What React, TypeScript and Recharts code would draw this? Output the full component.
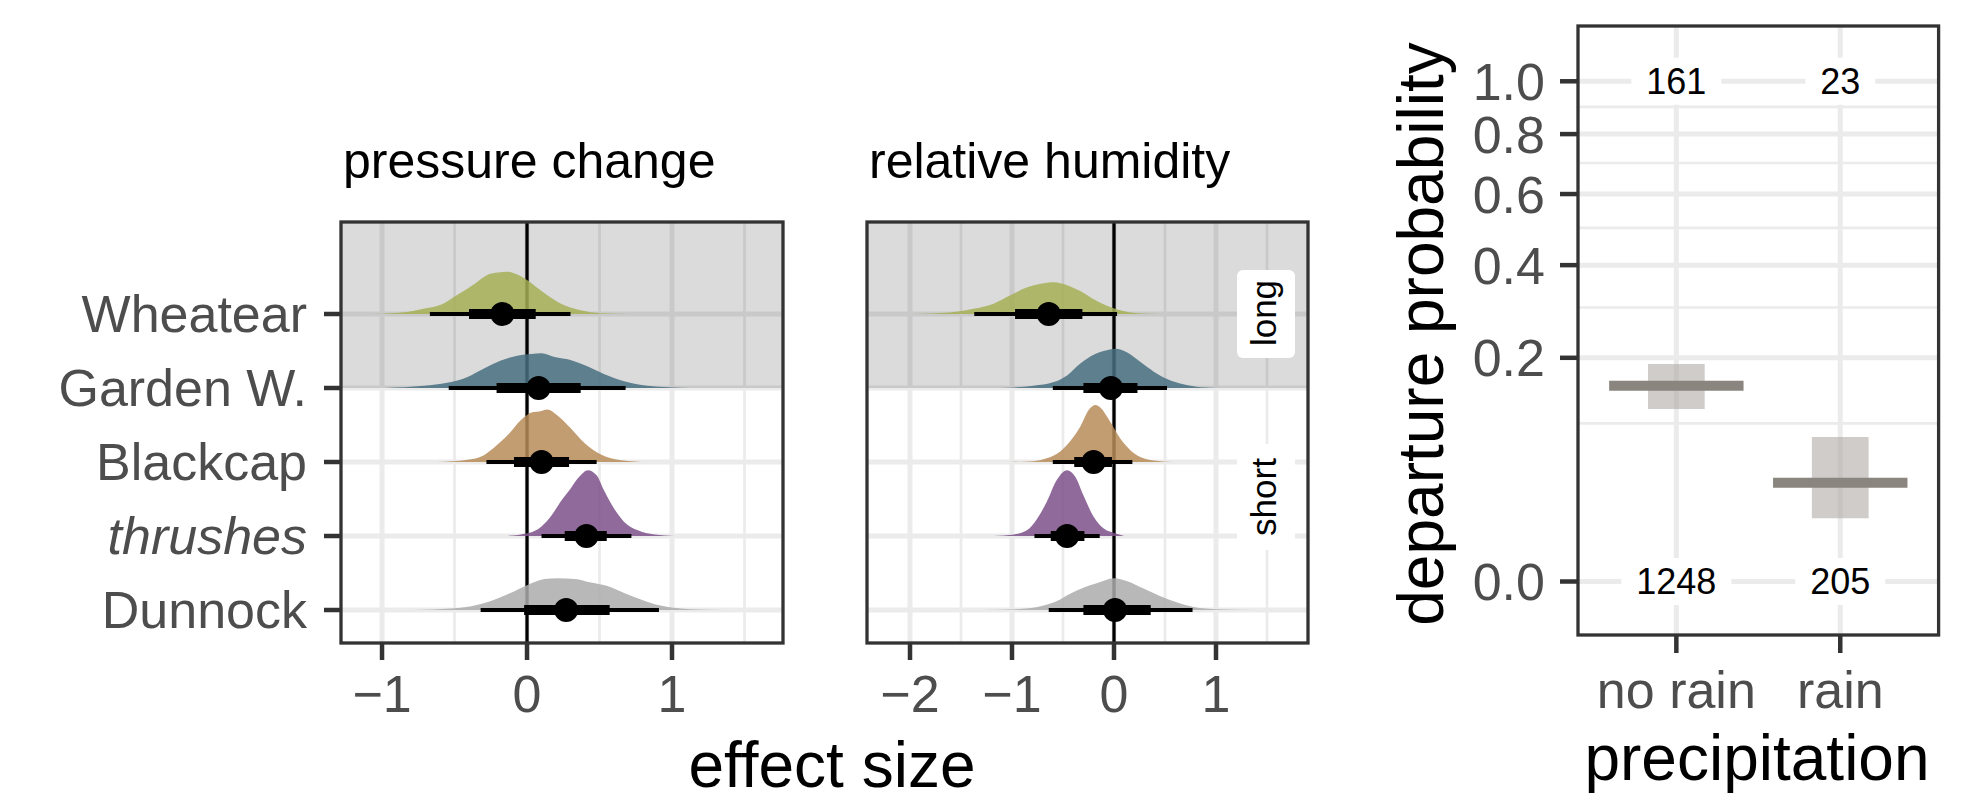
import React from 'react'
import {
  ComposedChart, Area, Line, Scatter, XAxis, YAxis, ReferenceLine, ReferenceArea
} from 'recharts'

// species, top to bottom, and their row on the y axis
const species = ['Wheatear', 'Garden W.', 'Blackcap', 'thrushes', 'Dunnock']
const speciesRow = [5, 4, 3, 2, 1]
const speciesColors = ['#A6AF56', '#486F80', '#B88C59', '#7B5088', '#ABABAB']

// posterior densities [effect size, height in row units]
const pcWheatear = [[-1.06, 0], [-0.82, 0.03], [-0.69, 0.08], [-0.59, 0.13], [-0.48, 0.26], [-0.36, 0.41], [-0.27, 0.53], [-0.2, 0.56], [-0.13, 0.57], [-0.09, 0.55], [0, 0.46], [0.1, 0.31], [0.19, 0.19], [0.28, 0.1], [0.37, 0.05], [0.51, 0.01], [0.72, 0]]
const pcGarden = [[-0.98, 0], [-0.71, 0.03], [-0.55, 0.07], [-0.41, 0.15], [-0.29, 0.27], [-0.18, 0.37], [-0.06, 0.44], [0.03, 0.46], [0.1, 0.47], [0.19, 0.42], [0.3, 0.38], [0.42, 0.29], [0.53, 0.19], [0.67, 0.09], [0.83, 0.03], [1.13, 0]]
const pcBlackcap = [[-0.62, 0], [-0.41, 0.03], [-0.32, 0.07], [-0.23, 0.19], [-0.13, 0.37], [-0.04, 0.57], [0.03, 0.67], [0.1, 0.69], [0.14, 0.71], [0.21, 0.63], [0.3, 0.46], [0.4, 0.25], [0.49, 0.12], [0.6, 0.04], [0.79, 0]]
const pcThrushes = [[-0.15, 0], [0.01, 0.04], [0.1, 0.13], [0.17, 0.28], [0.23, 0.46], [0.3, 0.64], [0.36, 0.8], [0.42, 0.89], [0.48, 0.82], [0.53, 0.62], [0.6, 0.37], [0.67, 0.19], [0.76, 0.08], [0.88, 0.02], [1.02, 0]]
const pcDunnock = [[-0.78, 0], [-0.52, 0.02], [-0.34, 0.07], [-0.2, 0.16], [-0.09, 0.25], [0.03, 0.36], [0.12, 0.42], [0.21, 0.43], [0.33, 0.42], [0.44, 0.37], [0.56, 0.32], [0.67, 0.23], [0.79, 0.14], [0.92, 0.06], [1.13, 0.01], [1.36, 0]]

const rhWheatear = [[-1.96, 0], [-1.61, 0.02], [-1.38, 0.07], [-1.18, 0.14], [-1.02, 0.25], [-0.85, 0.36], [-0.72, 0.41], [-0.59, 0.43], [-0.46, 0.39], [-0.33, 0.31], [-0.2, 0.2], [-0.07, 0.11], [0.06, 0.05], [0.23, 0.01], [0.45, 0]]
const rhGarden = [[-1.12, 0], [-0.79, 0.03], [-0.59, 0.08], [-0.46, 0.17], [-0.33, 0.33], [-0.2, 0.45], [-0.07, 0.51], [0.01, 0.53], [0.13, 0.48], [0.26, 0.35], [0.39, 0.22], [0.52, 0.12], [0.68, 0.05], [0.85, 0.01], [1.04, 0]]
const rhBlackcap = [[-1.02, 0], [-0.79, 0.01], [-0.66, 0.05], [-0.53, 0.14], [-0.43, 0.28], [-0.33, 0.48], [-0.25, 0.7], [-0.18, 0.77], [-0.13, 0.73], [-0.04, 0.55], [0.06, 0.32], [0.16, 0.16], [0.29, 0.05], [0.45, 0.01], [0.59, 0]]
const rhThrushes = [[-1.18, 0], [-0.98, 0.02], [-0.85, 0.08], [-0.76, 0.22], [-0.66, 0.46], [-0.56, 0.76], [-0.46, 0.89], [-0.38, 0.8], [-0.3, 0.55], [-0.2, 0.26], [-0.1, 0.1], [0, 0.04], [0.1, 0]]
const rhDunnock = [[-1.28, 0], [-0.95, 0.01], [-0.72, 0.05], [-0.56, 0.12], [-0.43, 0.22], [-0.3, 0.3], [-0.17, 0.36], [0, 0.43], [0.13, 0.39], [0.29, 0.29], [0.45, 0.19], [0.62, 0.1], [0.78, 0.04], [1.01, 0.01], [1.37, 0]]

// medians, 66% and 95% intervals (species order)
const pcMedian = [-0.17, 0.08, 0.1, 0.41, 0.27]
const pcThickLo = [-0.4, -0.21, -0.09, 0.26, -0.02]
const pcThickHi = [0.06, 0.37, 0.29, 0.55, 0.57]
const pcThinLo = [-0.67, -0.54, -0.28, 0.1, -0.32]
const pcThinHi = [0.3, 0.68, 0.48, 0.72, 0.91]

const rhMedian = [-0.64, -0.03, -0.2, -0.46, 0.01]
const rhThickLo = [-0.97, -0.3, -0.39, -0.62, -0.3]
const rhThickHi = [-0.31, 0.23, -0.02, -0.29, 0.36]
const rhThinLo = [-1.37, -0.6, -0.6, -0.78, -0.64]
const rhThinHi = [0.03, 0.52, 0.18, -0.14, 0.77]

// departure probability by precipitation
const precipitation = ['no rain', 'rain']
const departProb = [0.153, 0.039]
const departLo = [0.119, 0.016]
const departHi = [0.189, 0.0835]
const departedN = [161, 23]
const stayedN = [1248, 205]
const probTicks = [0, 0.2, 0.4, 0.6, 0.8, 1.0]
const probMinor = [0.1, 0.3, 0.5, 0.7, 0.9]

const GRID = '#EBEBEB'
const INK = '#333333'
const TICK_TEXT = '#4D4D4D'
const FONT = '"Liberation Sans", Arial, Helvetica, sans-serif'
const ROW_DOMAIN = [0.5541, 6.2432]

const fmtMinus = (v: number) => (v < 0 ? '\u2212' + Math.abs(v) : String(v))

function SpeciesTick(props: any) {
  const { x, y, payload } = props
  const i = speciesRow.indexOf(payload.value)
  return (
    <text x={x} y={y} dy="0.355em" textAnchor="end" fill={TICK_TEXT} fontSize={52}
      fontStyle={species[i] === 'thrushes' ? 'italic' : 'normal'}>
      {species[i]}
    </text>
  )
}

const Dot = (props: any) => <circle cx={props.cx} cy={props.cy} r={12} fill="#000" />

function CountLabel(props: any) {
  const { cx, cy, payload } = props
  const w = String(payload.n).length * 20 + 30
  return (
    <g>
      <rect x={cx - w / 2} y={cy - 23.5} width={w} height={47} rx={6} fill="#fff" />
      <text x={cx} y={cy} dy="0.36em" textAnchor="middle" fontSize={36} fill="#000">{payload.n}</text>
    </g>
  )
}

type PanelProps = {
  dens: number[][][]
  med: number[]
  thickLo: number[]
  thickHi: number[]
  thinLo: number[]
  thinHi: number[]
  domain: number[]
  major: number[]
  minor: number[]
  showY: boolean
  left: number
  width: number
  margin: { top: number; right: number; bottom: number; left: number }
}

function EffectPanel(p: PanelProps) {
  const areaData = p.dens.map((d, i) => d.map(([x, h]) => ({ x, r: [speciesRow[i], speciesRow[i] + h] })))
  const points = p.med.map((m, i) => ({ x: m, y: speciesRow[i] }))
  return (
    <div style={{ position: 'absolute', left: p.left, top: 200 }}>
      <ComposedChart width={p.width} height={560} margin={p.margin}>
        <XAxis type="number" dataKey="x" domain={p.domain} allowDataOverflow ticks={p.major} interval={0}
          tickFormatter={fmtMinus} height={117} tickSize={17} tickMargin={15} axisLine={false}
          tickLine={{ stroke: INK, strokeWidth: 4.5 }} tick={{ fill: TICK_TEXT, fontSize: 52 }} />
        <YAxis type="number" dataKey="y" domain={ROW_DOMAIN} allowDataOverflow ticks={speciesRow} interval={0}
          hide={!p.showY} width={341} tickSize={17} tickMargin={17} axisLine={false}
          tickLine={{ stroke: INK, strokeWidth: 4.5 }} tick={<SpeciesTick />} />
        {p.minor.map((v) => (
          <ReferenceLine key={'mn' + v} x={v} stroke={GRID} strokeWidth={2.7} zIndex={-80} />
        ))}
        {p.major.map((v) => (
          <ReferenceLine key={'mj' + v} x={v} stroke={GRID} strokeWidth={5} zIndex={-80} />
        ))}
        {speciesRow.map((r) => (
          <ReferenceLine key={'row' + r} y={r} stroke={GRID} strokeWidth={5} zIndex={-80} />
        ))}
        <ReferenceArea y1={4} y2={ROW_DOMAIN[1]} fill="#000" fillOpacity={0.14} stroke="none" zIndex={-60} />
        <ReferenceLine x={0} stroke="#000" strokeWidth={3.3} zIndex={-40} />
        {areaData.map((d, i) => (
          <Area key={'a' + i} data={d} dataKey="r" type="monotone" fill={speciesColors[i]} fillOpacity={0.85}
            stroke="none" dot={false} activeDot={false} isAnimationActive={false} />
        ))}
        {p.med.map((_, i) => (
          <Line key={'thin' + i} data={[{ x: p.thinLo[i], y: speciesRow[i] }, { x: p.thinHi[i], y: speciesRow[i] }]}
            dataKey="y" stroke="#000" strokeWidth={4} dot={false} activeDot={false} isAnimationActive={false} />
        ))}
        {p.med.map((_, i) => (
          <Line key={'thick' + i} data={[{ x: p.thickLo[i], y: speciesRow[i] }, { x: p.thickHi[i], y: speciesRow[i] }]}
            dataKey="y" stroke="#000" strokeWidth={10} dot={false} activeDot={false} isAnimationActive={false} />
        ))}
        <Scatter data={points} dataKey="y" shape={<Dot />} isAnimationActive={false} />
      </ComposedChart>
    </div>
  )
}

function PrecipPanel() {
  const labels = [
    ...departedN.map((n, i) => ({ x: i + 1, y: 1, n })),
    ...stayedN.map((n, i) => ({ x: i + 1, y: 0, n })),
  ]
  return (
    <div style={{ position: 'absolute', left: 1400, top: 0 }}>
      <ComposedChart width={578} height={760} margin={{ top: 26, right: 39.4, bottom: 0, left: 0 }}>
        <XAxis type="number" dataKey="x" domain={[0.4, 2.6]} allowDataOverflow ticks={[1, 2]} interval={0}
          tickFormatter={(v: number) => precipitation[v - 1]} height={125} tickSize={18} tickMargin={18}
          axisLine={false} tickLine={{ stroke: INK, strokeWidth: 4.5 }} tick={{ fill: TICK_TEXT, fontSize: 52 }} />
        <YAxis type="number" dataKey="y" scale="sqrt" domain={[-0.01144, 1.2333]} allowDataOverflow ticks={probTicks}
          interval={0} tickFormatter={(v: number) => v.toFixed(1)} width={178} tickSize={18} tickMargin={15}
          axisLine={false} tickLine={{ stroke: INK, strokeWidth: 4.5 }} tick={{ fill: TICK_TEXT, fontSize: 52 }} />
        {probMinor.map((v) => (
          <ReferenceLine key={'pm' + v} y={v} stroke={GRID} strokeWidth={2.7} zIndex={-80} />
        ))}
        {probTicks.map((v) => (
          <ReferenceLine key={'pj' + v} y={v} stroke={GRID} strokeWidth={5} zIndex={-80} />
        ))}
        {[1, 2].map((v) => (
          <ReferenceLine key={'px' + v} x={v} stroke={GRID} strokeWidth={5} zIndex={-80} />
        ))}
        {departProb.map((_, i) => (
          <ReferenceArea key={'ci' + i} x1={i + 1 - 0.173} x2={i + 1 + 0.173} y1={departLo[i]} y2={departHi[i]}
            fill="#A8A29E" fillOpacity={0.55} stroke="none" zIndex={-20} />
        ))}
        {departProb.map((v, i) => (
          <Line key={'m' + i} data={[{ x: i + 1 - 0.41, y: v }, { x: i + 1 + 0.41, y: v }]} dataKey="y"
            stroke="#8A857F" strokeWidth={10} dot={false} activeDot={false} isAnimationActive={false} />
        ))}
        <Scatter data={labels} dataKey="y" shape={<CountLabel />} isAnimationActive={false} />
      </ComposedChart>
    </div>
  )
}

export default function App() {
  return (
    <div style={{ position: 'absolute', left: 0, top: 0, width: 1978, height: 800, background: '#fff', fontFamily: FONT, overflow: 'hidden' }}>
      <EffectPanel dens={[pcWheatear, pcGarden, pcBlackcap, pcThrushes, pcDunnock]} med={pcMedian}
        thickLo={pcThickLo} thickHi={pcThickHi} thinLo={pcThinLo} thinHi={pcThinHi}
        domain={[-1.283, 1.7655]} major={[-1, 0, 1]} minor={[-0.5, 0.5, 1.5]} showY left={0} width={800}
        margin={{ top: 22, right: 17, bottom: 0, left: 0 }} />
      <EffectPanel dens={[rhWheatear, rhGarden, rhBlackcap, rhThrushes, rhDunnock]} med={rhMedian}
        thickLo={rhThickLo} thickHi={rhThickHi} thinLo={rhThinLo} thinHi={rhThinHi}
        domain={[-2.4216, 1.902]} major={[-2, -1, 0, 1]} minor={[-1.5, -0.5, 0.5, 1.5]} showY={false} left={850}
        width={480} margin={{ top: 22, right: 22, bottom: 0, left: 17 }} />
      <PrecipPanel />
      <svg width={1978} height={800} style={{ position: 'absolute', left: 0, top: 0, pointerEvents: 'none' }}>
        <text x={343} y={178} fontSize={50} fill="#000">pressure change</text>
        <text x={869} y={178} fontSize={50} fill="#000">relative humidity</text>
        <text x={832} y={787} fontSize={64} fill="#000" textAnchor="middle">effect size</text>
        <text x={1757} y={780} fontSize={64} fill="#000" textAnchor="middle">precipitation</text>
        <text x={1443} y={334} fontSize={64} fill="#000" textAnchor="middle" transform="rotate(-90 1443 334)">departure probability</text>
        <rect x={1237} y={270} width={58} height={88} rx={6} fill="#fff" />
        <text x={1276} y={313} fontSize={35} fill="#000" textAnchor="middle" transform="rotate(-90 1276 313)">long</text>
        <rect x={1237} y={444} width={58} height={106} rx={6} fill="#fff" />
        <text x={1276} y={497} fontSize={35} fill="#000" textAnchor="middle" transform="rotate(-90 1276 497)">short</text>
        <rect x={341} y={222} width={442} height={421} fill="none" stroke={INK} strokeWidth={3.3} />
        <rect x={867} y={222} width={441} height={421} fill="none" stroke={INK} strokeWidth={3.3} />
        <rect x={1578} y={26} width={360.6} height={609} fill="none" stroke={INK} strokeWidth={3.3} />
      </svg>
    </div>
  )
}
